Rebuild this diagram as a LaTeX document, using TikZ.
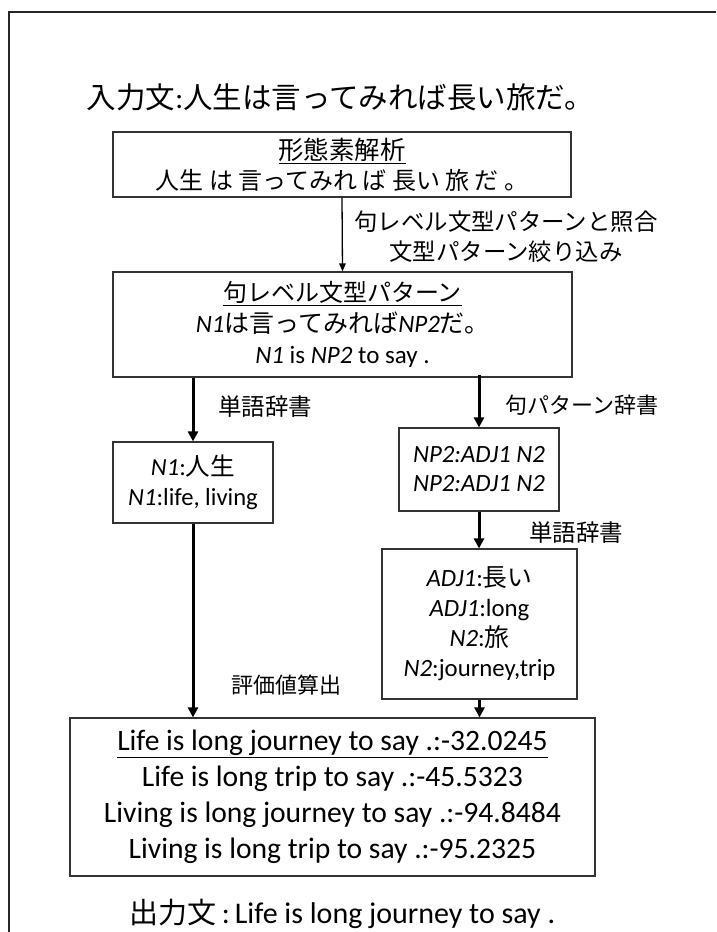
\documentclass[tikz,border=0pt]{standalone}
\usepackage{fontspec}
\setmainfont{Carlito}
\newfontfamily\jp{Noto Sans CJK JP}
\usetikzlibrary{arrows.meta}
\newcommand{\J}[1]{{\jp #1}}
\newcommand{\I}[1]{{\itshape #1}}
\begin{document}
\begin{tikzpicture}[x=1pt,y=-1pt,
  box/.style={draw=black!80, line width=1.2pt, align=center, inner sep=0pt},
  arrthick/.style={-{Triangle[length=10pt,width=10pt]}, line width=3pt},
  arrthin/.style={-{Triangle[length=8pt,width=6.5pt]}, line width=1.3pt},
  lbl/.style={font=\jp\fontsize{22}{28}\selectfont, anchor=west, inner sep=0pt}]
\useasboundingbox (0,0) rectangle (716,932);
\fill[white] (0,0) rectangle (716,932);
% frame
\draw[line width=1.2pt, black!85] (9,932) -- (9,12) -- (716,12);
% title
\node[font=\fontsize{29.5}{32}\selectfont, inner sep=0pt] (title) at (340.5,97)
  {\J{入力文}:\J{人生は言ってみれば長い旅だ。}};
% boxes
\node[box, minimum width=458pt, minimum height=65pt, font=\jp\fontsize{24}{30}\selectfont] (b1) at (342,164.5)
  {{\fontsize{25.4}{30}\selectfont\underline{形態素解析}}\\人生 は 言ってみれ ば 長い 旅 だ 。};
\node[box, minimum width=459pt, minimum height=105pt, font=\fontsize{25}{31}\selectfont] (b2) at (342.5,324.5)
  {{\fontsize{24}{30}\selectfont\underline{\J{句レベル文型パターン}}}\\
   \I{N1}\J{は言ってみれば}\I{NP2}\J{だ。}\\
   \I{N1} is \I{NP2} to say .};
\node[box, minimum width=160pt, minimum height=81pt, font=\fontsize{24.6}{30}\selectfont] (bn1) at (193,482.5)
  {\I{N1}:\J{人生}\\\I{N1}:life, living};
\node[box, minimum width=160pt, minimum height=83pt, font=\fontsize{24.8}{29}\selectfont] (bnp2) at (479,469.5)
  {\I{NP2:ADJ1 N2}\\\I{NP2:ADJ1 N2}};
\node[box, minimum width=195pt, minimum height=150pt, font=\fontsize{24.8}{30}\selectfont] (badj) at (479.5,624)
  {\I{ADJ1}:\J{長い}\\\I{ADJ1}:long\\\I{N2}:\J{旅}\\\I{N2}:journey,trip};
\node[box, minimum width=525pt, minimum height=158pt, font=\fontsize{29.6}{36}\selectfont] (bfin) at (332.5,797)
  {\underline{Life is long journey to say .:-32.0245}\\
   Life is long trip to say .:-45.5323\\
   Living is long journey to say .:-94.8484\\
   Living is long trip to say .:-95.2325};
% output
\node[font=\fontsize{30}{32}\selectfont, inner sep=0pt] (out) at (342.5,914)
  {{\fontsize{29}{30}\selectfont\J{出力文}}\,:\,Life is long journey to say .};
% arrows
\draw[arrthin] (b1.south) -- (b2.north);
\draw[arrthick] (b2.south -| bn1) -- (bn1.north);
\draw[arrthick] ([yshift=3pt]bnp2 |- b2.south) -- (bnp2.north);
\draw[arrthick] (bnp2.south) -- (bnp2.south |- badj.north);
\draw[arrthick] (bn1.south) -- (bn1.south |- bfin.north);
\draw[arrthick] (badj.south) -- (badj.south |- bfin.north);
% labels
\node[font=\jp\fontsize{23.4}{30}\selectfont, align=center, inner sep=0pt] (l1) at (506,237)
  {句レベル文型パターンと照合\\文型パターン絞り込み};
\node[lbl, font=\jp\fontsize{23.5}{28}\selectfont] (l2) at (218,407) {単語辞書};
\node[lbl] (l3) at (505,405) {句パターン辞書};
\node[lbl, font=\jp\fontsize{23.5}{28}\selectfont] (l4) at (529,533) {単語辞書};
\node[lbl] (l5) at (231,685) {評価値算出};
\end{tikzpicture}
\end{document}
